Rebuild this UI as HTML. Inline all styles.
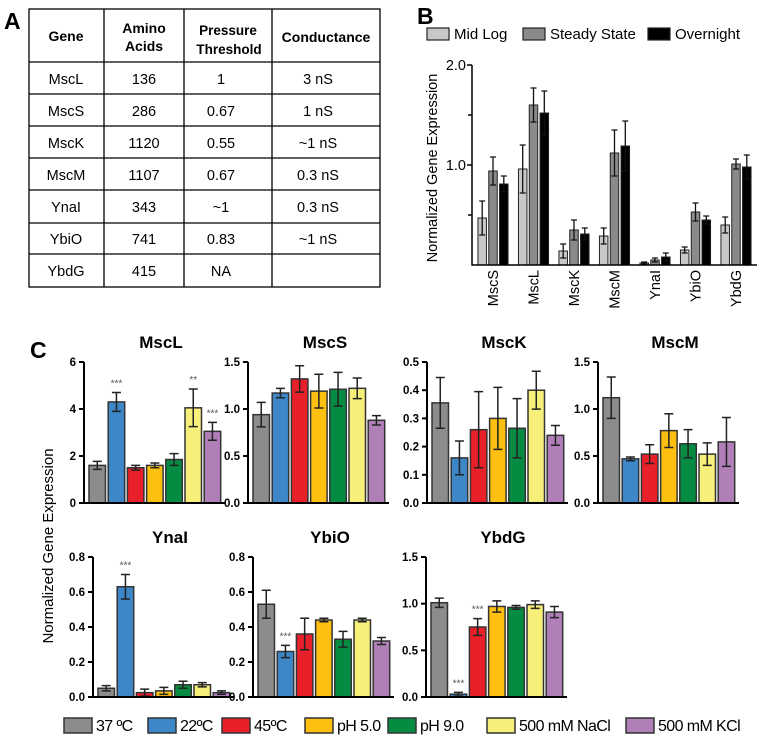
<!DOCTYPE html>
<html><head><meta charset="utf-8"><style>
body{margin:0;background:#fff}
svg{display:block;font-family:"Liberation Sans",Arial,sans-serif}
</style></head><body>
<svg id="fig" width="757" height="736" viewBox="0 0 757 736" xmlns="http://www.w3.org/2000/svg">
<g>
<text x="4" y="29" font-size="23" font-weight="bold">A</text>
<rect x="29" y="9" width="351" height="278" fill="none" stroke="#000" stroke-width="1.3"/>
<g stroke="#000" stroke-width="1.3">
<line x1="104" y1="9" x2="104" y2="287"/><line x1="184" y1="9" x2="184" y2="287"/><line x1="272" y1="9" x2="272" y2="287"/>
<line x1="29" y1="62" x2="380" y2="62"/><line x1="29" y1="94" x2="380" y2="94"/><line x1="29" y1="126" x2="380" y2="126"/><line x1="29" y1="158" x2="380" y2="158"/><line x1="29" y1="190" x2="380" y2="190"/><line x1="29" y1="223" x2="380" y2="223"/><line x1="29" y1="254" x2="380" y2="254"/>
</g>
<g font-size="14" font-weight="bold" text-anchor="middle">
<text x="66" y="41">Gene</text>
<text x="144" y="33">Amino</text><text x="144" y="51">Acids</text>
<text x="228" y="35" font-size="13.5">Pressure</text><text x="229" y="54" font-size="13.5">Threshold</text>
<text x="326" y="42">Conductance</text>
</g>
<g font-size="14.5" text-anchor="middle">
<text x="66" y="84">MscL</text><text x="144" y="84">136</text><text x="221" y="84">1</text><text x="318" y="84">3 nS</text>
<text x="66" y="116">MscS</text><text x="144" y="116">286</text><text x="221" y="116">0.67</text><text x="318" y="116">1 nS</text>
<text x="66" y="148">MscK</text><text x="144" y="148">1120</text><text x="221" y="148">0.55</text><text x="318" y="148">~1 nS</text>
<text x="66" y="180">MscM</text><text x="144" y="180">1107</text><text x="221" y="180">0.67</text><text x="318" y="180">0.3 nS</text>
<text x="66" y="212">YnaI</text><text x="144" y="212">343</text><text x="221" y="212">~1</text><text x="318" y="212">0.3 nS</text>
<text x="66" y="244">YbiO</text><text x="144" y="244">741</text><text x="221" y="244">0.83</text><text x="318" y="244">~1 nS</text>
<text x="66" y="276">YbdG</text><text x="144" y="276">415</text><text x="221" y="276">NA</text>
</g>
</g>
<text x="417" y="24" font-size="23" font-weight="bold">B</text>
<text x="30" y="358" font-size="23" font-weight="bold">C</text>
<g id="pb"></g>
<g id="pc"></g>
</svg>
<script>
// Panel B data
const bGenes = ["MscS","MscL","MscK","MscM","YnaI","YbiO","YbdG"];
const bSeries = ["Mid Log","Steady State","Overnight"];
const bMidLog = [0.47,0.96,0.14,0.29,0.02,0.15,0.40];
const bMidLogErr = [0.17,0.24,0.07,0.08,0.01,0.03,0.08];
const bSteady = [0.94,1.60,0.35,1.12,0.05,0.53,1.01];
const bSteadyErr = [0.14,0.17,0.10,0.23,0.02,0.09,0.05];
const bOvernight = [0.81,1.52,0.31,1.19,0.08,0.45,0.98];
const bOvernightErr = [0.08,0.22,0.06,0.25,0.04,0.04,0.12];
const bTickLabels = ["1.0","2.0"];
const bTickVals = [1.0,2.0];
const bMinorTicks = [0.5,1.5];

// Panel C data
const cConditions = ["37 ºC","22ºC","45ºC","pH 5.0","pH 9.0","500 mM NaCl","500 mM KCl"];
const cGenes = ["MscL","MscS","MscK","MscM","YnaI","YbiO","YbdG"];
const cMscL = [1.6,4.3,1.5,1.6,1.85,4.05,3.05];
const cMscLErr = [0.17,0.4,0.1,0.1,0.25,0.8,0.38];
const cMscS = [0.94,1.17,1.32,1.19,1.21,1.22,0.88];
const cMscSErr = [0.13,0.05,0.14,0.18,0.18,0.11,0.05];
const cMscK = [0.355,0.16,0.26,0.30,0.265,0.40,0.24];
const cMscKErr = [0.09,0.06,0.135,0.11,0.105,0.067,0.035];
const cMscM = [1.12,0.47,0.52,0.77,0.63,0.52,0.65];
const cMscMErr = [0.22,0.02,0.1,0.18,0.15,0.12,0.26];
const cYnaI = [0.05,0.63,0.025,0.035,0.07,0.07,0.025];
const cYnaIErr = [0.015,0.07,0.02,0.02,0.02,0.012,0.01];
const cYbiO = [0.53,0.26,0.36,0.44,0.33,0.44,0.32];
const cYbiOErr = [0.08,0.035,0.09,0.01,0.045,0.01,0.02];
const cYbdG = [1.01,0.03,0.75,0.97,0.96,0.99,0.91];
const cYbdGErr = [0.05,0.02,0.09,0.06,0.02,0.04,0.06];
const cStarsMscL = ["","***","","","","**","***"];
const cStarsYnaI = ["","***","","","","",""];
const cStarsYbiO = ["","***","","","","",""];
const cStarsYbdG = ["","***","***","","","",""];
const cStarsNone = ["","","","","","",""];
const cTicksMscL = ["0","2","4","6"];
const cTicks15 = ["0.0","0.5","1.0","1.5"];
const cTicks05 = ["0.0","0.1","0.2","0.3","0.4","0.5"];
const cTicks08 = ["0.0","0.2","0.4","0.6","0.8"];

const NS="http://www.w3.org/2000/svg";
function mk(parent,tag,attrs,text){const e=document.createElementNS(NS,tag);for(const k in attrs)e.setAttribute(k,attrs[k]);if(text!==undefined)e.textContent=text;parent.appendChild(e);return e;}

// ---------- Panel B ----------
(function(){
  const g=document.getElementById('pb');
  const ax=472, top=65, base=265, maxV=2.0;
  const y=v=>base-(v/maxV)*(base-top);
  const x0=493, pitch=40.5, bw=8.5;
  const colors=["#c8c8c8","#8a8a8a","#000"];
  const vals=[bMidLog,bSteady,bOvernight], errs=[bMidLogErr,bSteadyErr,bOvernightErr];
  const lx=[427,523,648];
  bSeries.forEach((s,i)=>{
    const r=mk(g,'rect',{x:lx[i],y:28,width:22,height:12,fill:colors[i],stroke:"#222","stroke-width":1.2});
    
    
    const t=mk(g,'text',{x:lx[i]+27,y:39,"font-size":15},s);
    
    
  });
  bGenes.forEach((gn,gi)=>{
    const cx=x0+gi*pitch;
    for(let si=0;si<3;si++){
      const bx=cx+(si-1)*10.8-bw/2, v=vals[si][gi], e=errs[si][gi];
      const r=mk(g,'rect',{x:bx,y:y(v),width:bw,height:base-y(v),fill:colors[si],stroke:"#222","stroke-width":1});
      
      
      const mx=bx+bw/2;
      const eb=mk(g,'path',{d:`M${mx},${y(v+e)}V${y(Math.max(0,v-e))}M${mx-3},${y(v+e)}H${mx+3}M${mx-3},${y(Math.max(0,v-e))}H${mx+3}`,stroke:"#111","stroke-width":1.3,fill:"none"});
      
      
    }
    const t=mk(g,'text',{x:0,y:0,"font-size":14.5,"text-anchor":"end",transform:`translate(${cx+5},270) rotate(-90)`},gn);
    
    
  });
  const axl=mk(g,'path',{d:`M${ax},${top}V${base}H757`,stroke:"#000","stroke-width":1.5,fill:"none"});
  
  
  bTickVals.forEach((v,i)=>{
    mk(g,'line',{x1:ax-5,x2:ax,y1:y(v),y2:y(v),stroke:"#000","stroke-width":1.5});
    const t=mk(g,'text',{x:ax-6,y:y(v)+5,"font-size":14.5,"text-anchor":"end"},bTickLabels[i]);
    
    
  });
  bMinorTicks.forEach(v=>mk(g,'line',{x1:ax-4,x2:ax,y1:y(v),y2:y(v),stroke:"#000","stroke-width":1.5}));
  const yt=mk(g,'text',{x:0,y:0,"font-size":14.5,"text-anchor":"middle",transform:`translate(437,168) rotate(-90)`},"Normalized Gene Expression");
  
  
})();

// ---------- Panel C ----------
(function(){
  const g=document.getElementById('pc');
  const colors=["#8c8c8c","#3d87c9","#e8202a","#fdc010","#058c42","#f6ef7a","#b07fb8"];
  const panels=[
    {name:"MscL",ax:84,top:362,base:503,max:6,vals:cMscL,errs:cMscLErr,ticks:cTicksMscL,stars:cStarsMscL},
    {name:"MscS",ax:248,top:362,base:503,max:1.5,vals:cMscS,errs:cMscSErr,ticks:cTicks15,stars:cStarsNone},
    {name:"MscK",ax:427,top:362,base:503,max:0.5,vals:cMscK,errs:cMscKErr,ticks:cTicks05,stars:cStarsNone},
    {name:"MscM",ax:598,top:362,base:503,max:1.5,vals:cMscM,errs:cMscMErr,ticks:cTicks15,stars:cStarsNone},
    {name:"YnaI",ax:93,top:557,base:697,max:0.8,vals:cYnaI,errs:cYnaIErr,ticks:cTicks08,stars:cStarsYnaI},
    {name:"YbiO",ax:253,top:557,base:697,max:0.8,vals:cYbiO,errs:cYbiOErr,ticks:cTicks08,stars:cStarsYbiO},
    {name:"YbdG",ax:426,top:557,base:697,max:1.5,vals:cYbdG,errs:cYbdGErr,ticks:cTicks15,stars:cStarsYbdG}
  ];
  panels.forEach(p=>{
    const pg=mk(g,'g',{});
    
    
    const y=v=>p.base-(v/p.max)*(p.base-p.top);
    const tt=mk(pg,'text',{x:p.ax+77,y:p.top-14,"font-size":17,"font-weight":"bold","text-anchor":"middle"},p.name);
    
    
    const pitch=19.2,bw=16.5;
    p.vals.forEach((v,i)=>{
      const bx=p.ax+5+i*pitch, e=p.errs[i];
      const r=mk(pg,'rect',{x:bx,y:y(v),width:bw,height:p.base-y(v),fill:colors[i],stroke:"#333","stroke-width":1.5});
      
      
      const mx=bx+bw/2, hi=y(v+e), lo=y(Math.max(0,v-e));
      const eb=mk(pg,'path',{d:`M${mx},${hi}V${lo}M${mx-4.5},${hi}H${mx+4.5}M${mx-4.5},${lo}H${mx+4.5}`,stroke:"#222","stroke-width":1.5,fill:"none"});
      
      
      if(p.stars[i]){
        const s=mk(pg,'text',{x:mx,y:hi-6,"font-size":10,fill:"#555","text-anchor":"middle"},p.stars[i]);
        
        
      }
    });
    const axl=mk(pg,'path',{d:`M${p.ax},${p.top}V${p.base}H${p.ax+141}`,stroke:"#000","stroke-width":2,fill:"none"});
    
    
    const n=p.ticks.length;
    p.ticks.forEach((lbl,i)=>{
      const ty=p.base-(i/(n-1))*(p.base-p.top);
      mk(pg,'line',{x1:p.ax-5,x2:p.ax,y1:ty,y2:ty,stroke:"#000","stroke-width":2});
      const t=mk(pg,'text',{x:p.ax-8,y:ty+4,"font-size":11.5,"font-weight":"bold","text-anchor":"end"},lbl);
      
      
    });
  });
  const yt=mk(g,'text',{x:0,y:0,"font-size":15,"text-anchor":"middle",transform:`translate(53,546) rotate(-90)`},"Normalized Gene Expression");
  
  
  const lx=[64,148,222,305,388,487,626];
  cConditions.forEach((c,i)=>{
    const r=mk(g,'rect',{x:lx[i],y:718,width:28,height:15,fill:colors[i],stroke:"#333","stroke-width":1.5});
    
    
    const t=mk(g,'text',{x:lx[i]+32,y:731,"font-size":16,"letter-spacing":"-0.6"},c);
    
    
  });
})();
</script>
</body></html>
